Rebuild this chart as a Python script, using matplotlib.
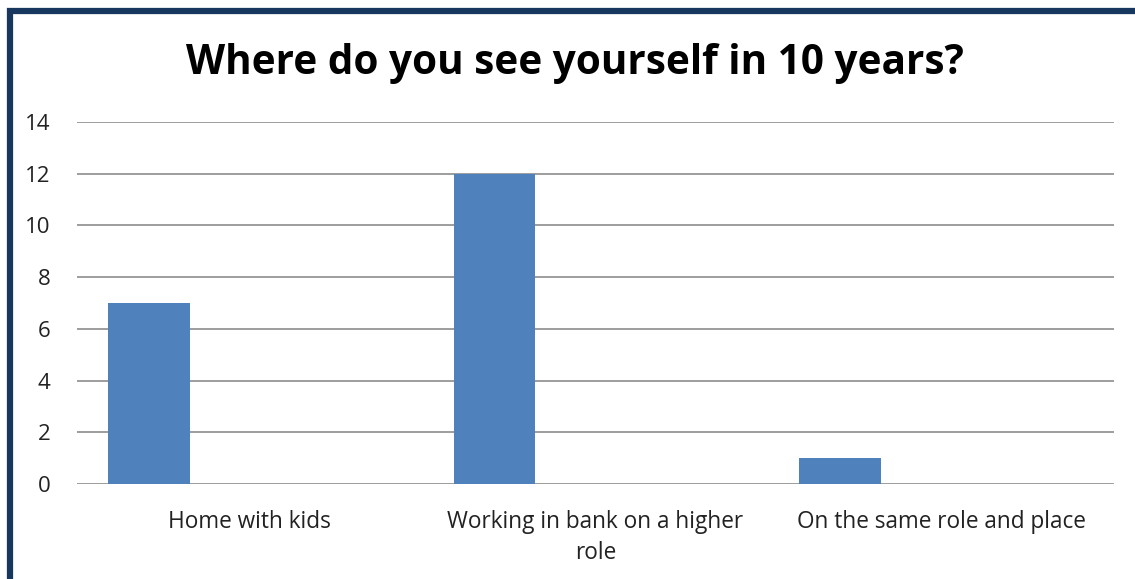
import matplotlib
matplotlib.use("Agg")
import matplotlib.pyplot as plt
from matplotlib.patches import Rectangle
import numpy as np

categories = ["Home with kids", "Working in bank on a higher\nrole", "On the same role and place"]
values = [7, 12, 1]
yticks = [0, 2, 4, 6, 8, 10, 12, 14]
title = "Where do you see yourself in 10 years?"

W, H = 1135, 579
fig = plt.figure(figsize=(W/100, H/100), dpi=100)
fig.patch.set_facecolor("white")

ax = fig.add_axes([77/W, 1-484/H, (1114-77)/W, (484-122)/H])
x = np.arange(len(categories))
ax.bar(x - 0.292, values, width=0.236, color="#4f81bd", zorder=3)
ax.set_xlim(-0.5, 2.5)
ax.set_ylim(0, 14)
ax.set_yticks(yticks)
ax.set_xticks(x)
ax.set_xticklabels(categories, fontsize=16.3, family="Open Sans", color="#222222", linespacing=1.4)
for lab in ax.get_yticklabels():
    lab.set_fontsize(16)
    lab.set_family("Open Sans")
    lab.set_color("#222222")
ax.tick_params(axis="both", length=0)
ax.tick_params(axis="y", pad=19)
ax.tick_params(axis="x", pad=18.5)
ax.yaxis.grid(True, color="#8c8c8c", linewidth=1.2, zorder=0)
for s in ax.spines.values():
    s.set_visible(False)

fig.text(575/W, 1-64/H, title, ha="center", va="center", fontsize=29.2, fontweight="bold", family="Open Sans", color="black")

rect = Rectangle((9.5/W, -0.1), 1.2, (H-10.5)/H + 0.1, transform=fig.transFigure,
                 fill=False, edgecolor="#17375e", linewidth=4.5, zorder=10)
fig.patches.append(rect)

fig.savefig("out.png", dpi=100)
